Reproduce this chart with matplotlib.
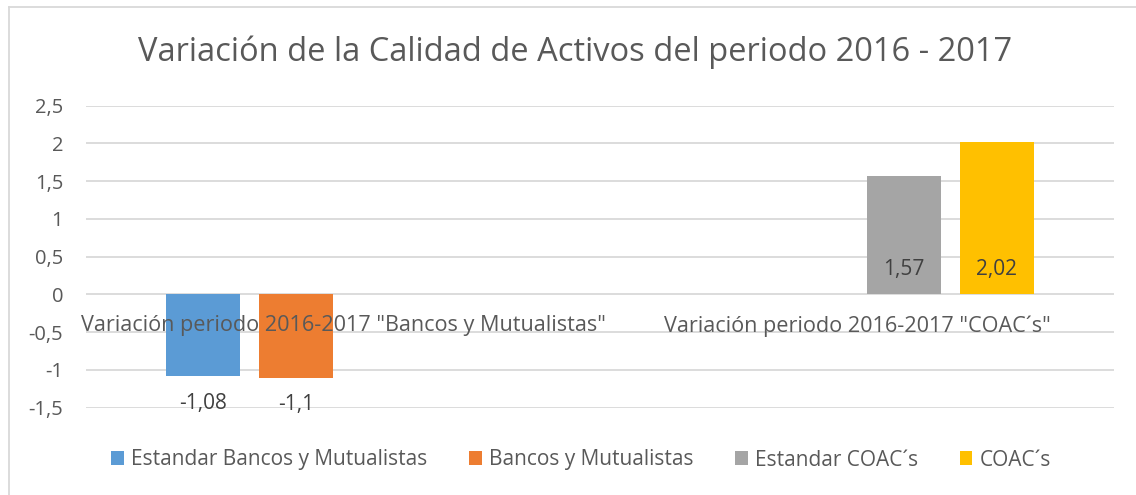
import numpy as np
import matplotlib
matplotlib.use("Agg")
import matplotlib.pyplot as plt
from matplotlib.patches import Patch
from matplotlib.lines import Line2D
from matplotlib.ticker import FuncFormatter

# data
categories = ['Variación periodo 2016-2017 "Bancos y Mutualistas"',
              'Variación periodo 2016-2017 "COAC´s"']
series_names = ["Estandar Bancos y Mutualistas", "Bancos y Mutualistas",
                "Estandar COAC´s", "COAC´s"]
estandar_bancos = [-1.08, np.nan]
bancos = [-1.10, np.nan]
estandar_coac = [np.nan, 1.57]
coac = [np.nan, 2.02]
y_ticks = [-1.5, -1, -0.5, 0, 0.5, 1, 1.5, 2, 2.5]

colors = ["#5B9BD5", "#ED7D31", "#A5A5A5", "#FFC000"]
TEXT = "#595959"
GRID = "#D9D9D9"
FONT = "Open Sans"
TICK_SIZE = 14.5
CAT_SIZE = 15.6
LABEL_SIZE = 15

fig = plt.figure(figsize=(11.36, 4.95), dpi=100)
ax = fig.add_axes([86 / 1136, 1 - 407.7 / 495, 1028 / 1136, 302 / 495])

x = np.arange(len(categories))
step = 0.181
width = 0.144
all_series = [estandar_bancos, bancos, estandar_coac, coac]
for i, (vals, col) in enumerate(zip(all_series, colors)):
    pos = x + (i - 1.5) * step
    ax.bar(pos, vals, width=width, color=col, zorder=2)
    # data labels: below the end for negatives, inside base for positives
    for px, v in zip(pos, vals):
        if np.isnan(v):
            continue
        label = f"{v:g}".replace(".", ",")
        if v < 0:
            ax.annotate(label, (px, v), xytext=(0, -19.5), textcoords="offset points",
                        ha="center", va="center", fontsize=LABEL_SIZE, color="#404040",
                        family=FONT, zorder=4)
        else:
            ax.annotate(label, (px, 0), xytext=(0, 18.3), textcoords="offset points",
                        ha="center", va="center", fontsize=LABEL_SIZE, color="#404040",
                        family=FONT, zorder=4)

# category labels sit just under the zero line
for cx, cat in zip(x, categories):
    ax.annotate(cat, (cx, 0), xytext=(0, -22.7), textcoords="offset points",
                ha="center", va="center", fontsize=CAT_SIZE, color=TEXT,
                family=FONT, zorder=5)

ax.set_xlim(-0.5, 1.5)
ax.set_ylim(-1.5, 2.5)
ax.set_xticks([])
ax.set_yticks(y_ticks)
ax.yaxis.set_major_formatter(FuncFormatter(lambda v, p: f"{v:g}".replace(".", ",")))
ax.tick_params(axis="y", length=0, pad=16.5, labelsize=TICK_SIZE, labelcolor=TEXT)
for lbl in ax.get_yticklabels():
    lbl.set_family(FONT)
ax.grid(axis="y", color=GRID, linewidth=1.3, zorder=0)
ax.set_axisbelow(True)
for s in ax.spines.values():
    s.set_visible(False)

fig.text(575.5 / 1136, 1 - 60.7 / 495, "Variación de la Calidad de Activos del periodo 2016 - 2017",
         ha="center", va="baseline", fontsize=23.5, color=TEXT, family=FONT)

handles = [Patch(facecolor=c, edgecolor="none") for c in colors]
fig.legend(handles, series_names, loc="center", bbox_to_anchor=(581 / 1136, 1 - 460 / 495),
           ncol=4, frameon=False, handlelength=0.62, handleheight=0.62,
           handletextpad=0.33, columnspacing=2.0,
           prop={"family": FONT, "size": 15}, labelcolor=TEXT)

# chart frame (only left and top edges are visible in the crop)
fig.add_artist(Line2D([9 / 1136, 9 / 1136], [0, 1 - 7 / 495], color=GRID, linewidth=1.3,
                      transform=fig.transFigure))
fig.add_artist(Line2D([9 / 1136, 1], [1 - 7 / 495, 1 - 7 / 495], color=GRID, linewidth=1.3,
                      transform=fig.transFigure))

fig.savefig("out.png", dpi=100)
